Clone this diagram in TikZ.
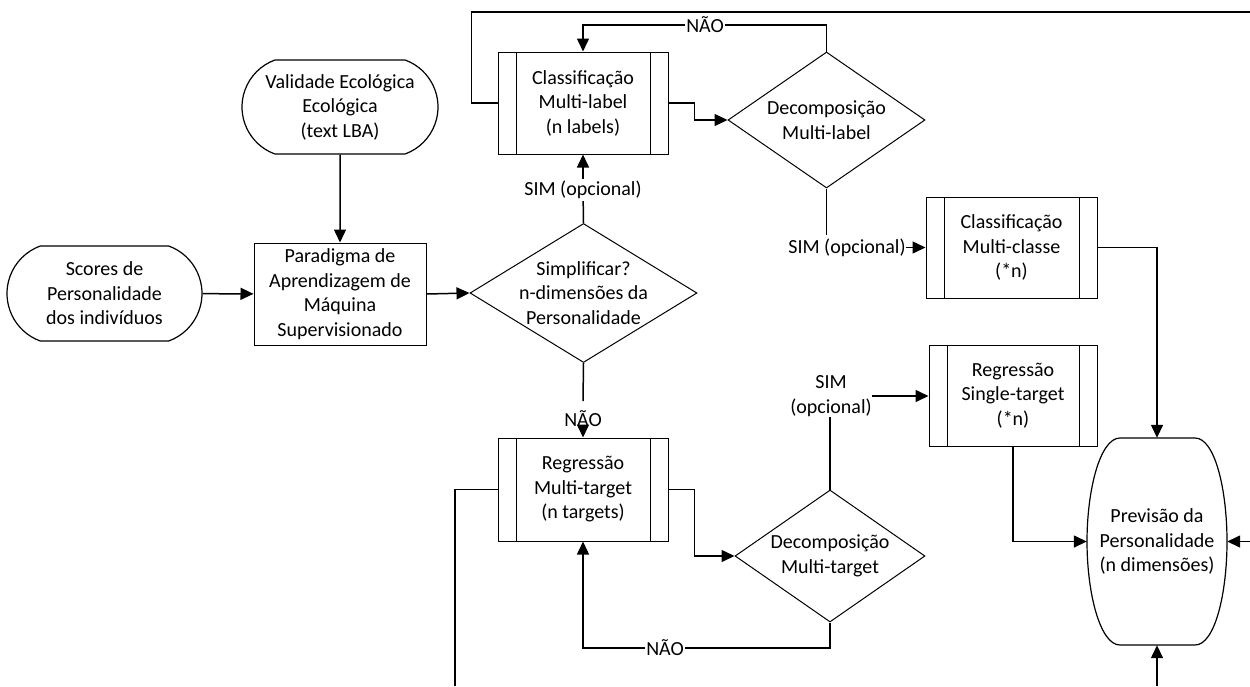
\documentclass[tikz,border=0pt]{standalone}
\usepackage{fontspec}
\setmainfont{Carlito}
\usetikzlibrary{arrows.meta,shapes.geometric,shapes.misc,calc}

\begin{document}
\begin{tikzpicture}[x=1pt,y=-1pt,
  every node/.style={font=\fontsize{20}{24.5}\selectfont, align=center, inner sep=0pt},
  term/.style={rounded rectangle, rounded rectangle arc length=140, draw, line width=1.2pt,
    minimum width=195pt, minimum height=95pt},
  plainbox/.style={rectangle, draw, line width=1pt, minimum width=172pt, minimum height=102pt},
  procbox/.style={rectangle, draw, line width=1pt, minimum width=170pt, minimum height=102pt,
    path picture={\draw[line width=1pt]
      ([xshift=18pt]path picture bounding box.north west) -- ([xshift=18pt]path picture bounding box.south west)
      ([xshift=-18pt]path picture bounding box.north east) -- ([xshift=-18pt]path picture bounding box.south east);}},
  decision/.style={diamond, draw, line width=1pt},
  flow/.style={line width=1.5pt, -{Triangle[length=13pt,width=12pt]}},
  wire/.style={line width=1.5pt},
  onwire/.style={inner xsep=1pt, inner ysep=2pt}
]
\useasboundingbox (0,0) rectangle (1250,686);

% inputs and learning paradigm
\node[term] (scores) at (104.5,293.5) {Scores de\\Personalidade\\dos indivíduos};
\node[term, minimum width=196pt, minimum height=94pt] (valid) at (340,107) {Validade Ecológica\\Ecológica\\(text LBA)};
\node[plainbox] (parad) at (340,294) {Paradigma de\\Aprendizagem de\\Máquina\\Supervisionado};

% main decision
\node[decision, minimum width=227pt, minimum height=139pt] (simp) at (583.5,293) {};
\node (simptxt) at (simp) {Simplificar?\\n-dimensões da\\Personalidade};

% classification branch
\node[procbox] (cml) at (583,103) {Classificação\\Multi-label\\(n labels)};
\node[decision, minimum width=197pt, minimum height=136pt] (dml) at (826.5,120) {};
\node (dmltxt) at (dml) {Decomposição\\Multi-label};
\node[procbox, minimum width=171pt, minimum height=101pt] (cmc) at (1011.5,247.5) {Classificação\\Multi-classe\\(*n)};

% regression branch
\node[procbox, minimum height=103pt] (rmt) at (583,489.5) {Regressão\\Multi-target\\(n targets)};
\node[decision, minimum width=190pt, minimum height=132pt] (dmt) at (830,556) {};
\node (dmttxt) at (dmt) {Decomposição\\Multi-target};
\node[procbox, minimum width=168pt, minimum height=101pt] (rst) at (1013,395.5) {Regressão\\Single-target\\(*n)};

% prediction output
\node[minimum width=140pt, minimum height=207pt] (prev) at (1157,541.5) {Previsão da\\Personalidade\\(n dimensões)};
\draw[line width=1.2pt] (1120,438) -- (1195,438)
  .. controls (1215,438) and (1227,490) .. (1227,541.5)
  .. controls (1227,593) and (1215,645) .. (1195,645) -- (1120,645)
  .. controls (1100,645) and (1087,593) .. (1087,541.5)
  .. controls (1087,490) and (1100,438) .. (1120,438) -- cycle;

% connector labels
\node[onwire] (sim1) at (583,190) {SIM (opcional)};
\node (nao1) at (583,419) {NÃO};
\node[onwire] (nao2) at (705,25) {NÃO};
\node[onwire] (nao3) at (665,648) {NÃO};
\node (sim2) at (847,247.5) {SIM (opcional)};
\node (sim3) at (831,396) {SIM\\(opcional)};

% free ends at the borders
\coordinate (topend) at (1250,12);
\coordinate (botend) at (455,686);
\coordinate (rightin) at (1250,541.5);
\coordinate (bottomin) at (1157,686);

% connectors
\draw[flow] (valid) -- (parad);
\draw[flow] (scores) -- (parad);
\draw[flow] (parad.east) -- (simp.west);

\draw[wire] (simp.north) -- (sim1);
\draw[flow] (sim1) -- (cml.south);
\draw[wire] (simp.south) -- ([yshift=18pt]nao1.center);
\draw[flow] ([yshift=-8pt]nao1.center) -- (rmt.north);

\draw[flow] (cml.east) -- ++(26,0) |- (dml.west);
\draw[wire] (dml.north) |- (nao2);
\draw[flow] (nao2) -| (cml.north);
\draw[wire] (cml.west) -- ++(-26,0) |- (topend);
\draw[wire] (dml.south) -- ([yshift=3pt]dml.south |- sim2.north);
\draw[flow] (sim2.east) -- (sim2.east -| cmc.west);
\draw[flow] (cmc.east) -| (prev.north);

\draw[flow] (rmt.east) -- ++(26,0) |- (dmt.west);
\draw[wire] (dmt.south) |- (nao3);
\draw[flow] (nao3) -| (rmt.south);
\draw[wire] (rmt.west) -| (botend);
\draw[wire] (dmt.north) -- (dmt.north |- sim3.south);
\draw[flow] (sim3.east) -- (sim3.east -| rst.west);
\draw[flow] (rst.south) |- (prev.west);

\draw[flow] (rightin) -- (prev.east);
\draw[flow] (bottomin) -- (prev.south);
\end{tikzpicture}
\end{document}
